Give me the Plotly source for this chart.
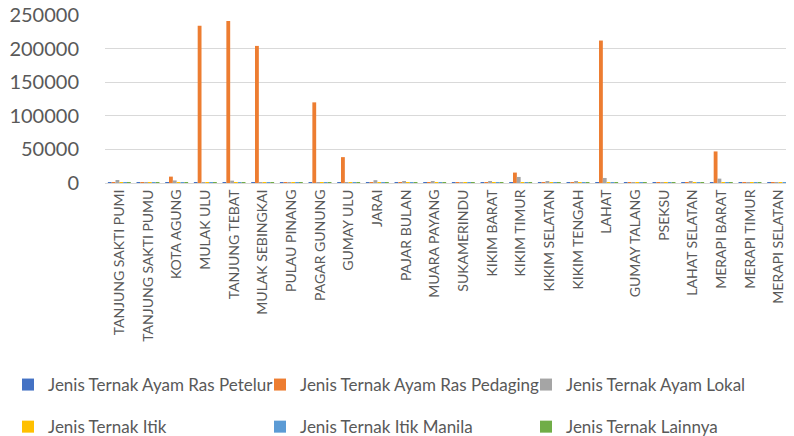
import plotly.graph_objects as go

kecamatan = [
    "TANJUNG SAKTI PUMI", "TANJUNG SAKTI PUMU", "KOTA AGUNG", "MULAK ULU",
    "TANJUNG TEBAT", "MULAK SEBINGKAI", "PULAU PINANG", "PAGAR GUNUNG",
    "GUMAY ULU", "JARAI", "PAJAR BULAN", "MUARA PAYANG", "SUKAMERINDU",
    "KIKIM BARAT", "KIKIM TIMUR", "KIKIM SELATAN", "KIKIM TENGAH", "LAHAT",
    "GUMAY TALANG", "PSEKSU", "LAHAT SELATAN", "MERAPI BARAT", "MERAPI TIMUR",
    "MERAPI SELATAN",
]

ras_petelur = [300, 200, 400, 300, 300, 200, 100, 300, 200, 300, 200, 200,
               100, 300, 500, 200, 200, 600, 200, 100, 200, 400, 100, 100]
ras_pedaging = [500, 300, 9500, 234000, 241000, 204000, 300, 120000, 38500,
                800, 600, 500, 300, 600, 15500, 500, 400, 212000, 300, 200,
                400, 47000, 200, 200]
ayam_lokal = [4500, 1200, 3800, 1300, 3500, 1200, 800, 1000, 800, 4200, 2300,
              2000, 1200, 3000, 9000, 2600, 2000, 7500, 1200, 600, 1800, 6500,
              700, 600]
itik = [300, 200, 300, 200, 300, 200, 100, 300, 200, 300, 200, 200,
        100, 300, 400, 200, 200, 500, 200, 100, 200, 300, 100, 100]
itik_manila = [300, 200, 300, 200, 300, 200, 100, 300, 200, 300, 200, 200,
               100, 300, 400, 200, 200, 500, 200, 100, 200, 300, 100, 100]
lainnya = [200, 100, 200, 100, 200, 100, 100, 200, 100, 200, 100, 100,
           100, 200, 300, 100, 100, 300, 100, 100, 100, 200, 100, 100]

# (name, values, colour, legend column)
series = [
    ("Jenis Ternak Ayam Ras Petelur", ras_petelur, "#4472C4", "legend"),
    ("Jenis Ternak Ayam Ras Pedaging", ras_pedaging, "#ED7D31", "legend2"),
    ("Jenis Ternak Ayam Lokal", ayam_lokal, "#A5A5A5", "legend3"),
    ("Jenis Ternak Itik", itik, "#FFC000", "legend"),
    ("Jenis Ternak Itik Manila", itik_manila, "#5B9BD5", "legend2"),
    ("Jenis Ternak Lainnya", lainnya, "#70AD47", "legend3"),
]

fig = go.Figure()
for name, vals, color, leg in series:
    fig.add_trace(go.Bar(x=kecamatan, y=vals, name=name, marker_color=color,
                         marker_line_width=0, legend=leg, legendgroup=name))

# the page body adds an 8px offset, so all positions below are in figure
# pixels (page pixels minus 8); the figure is a bit larger than the window
# so nothing has to push the margins
W, H = 802, 450
X0, X1 = 97, 785
Y_TOP, Y_BOT = 7, 175


def legend_at(px_x, px_bottom):
    return dict(
        orientation="v", x=px_x / W, xanchor="left", y=1 - px_bottom / H,
        yanchor="bottom", font=dict(size=17, color="#595959"), itemwidth=30,
        tracegroupgap=17, bgcolor="rgba(0,0,0,0)",
    )


fig.update_layout(
    width=W, height=H,
    margin=dict(l=0, r=0, t=0, b=0),
    paper_bgcolor="white", plot_bgcolor="white",
    font=dict(family="Lato, sans-serif", color="#595959"),
    barmode="group", bargap=0.2, bargroupgap=0,
    legend=legend_at(0, 437),
    legend2=legend_at(252, 437),
    legend3=legend_at(518, 437),
)
fig.update_yaxes(
    domain=[1 - Y_BOT / H, 1 - Y_TOP / H],
    range=[0, 250000], dtick=50000, showgrid=True, gridcolor="#D9D9D9",
    gridwidth=1, zeroline=False, tickfont=dict(size=20, color="#595959"),
    tickformat="d", ticks="", showline=False, ticklabelstandoff=25,
    ticklabeloverflow="allow", automargin=False,
)
fig.update_xaxes(
    domain=[X0 / W, X1 / W],
    tickangle=-90, tickfont=dict(size=14, color="#595959"),
    showline=True, linecolor="#D9D9D9", ticks="", automargin=False,
)

fig.write_html("out.html")
